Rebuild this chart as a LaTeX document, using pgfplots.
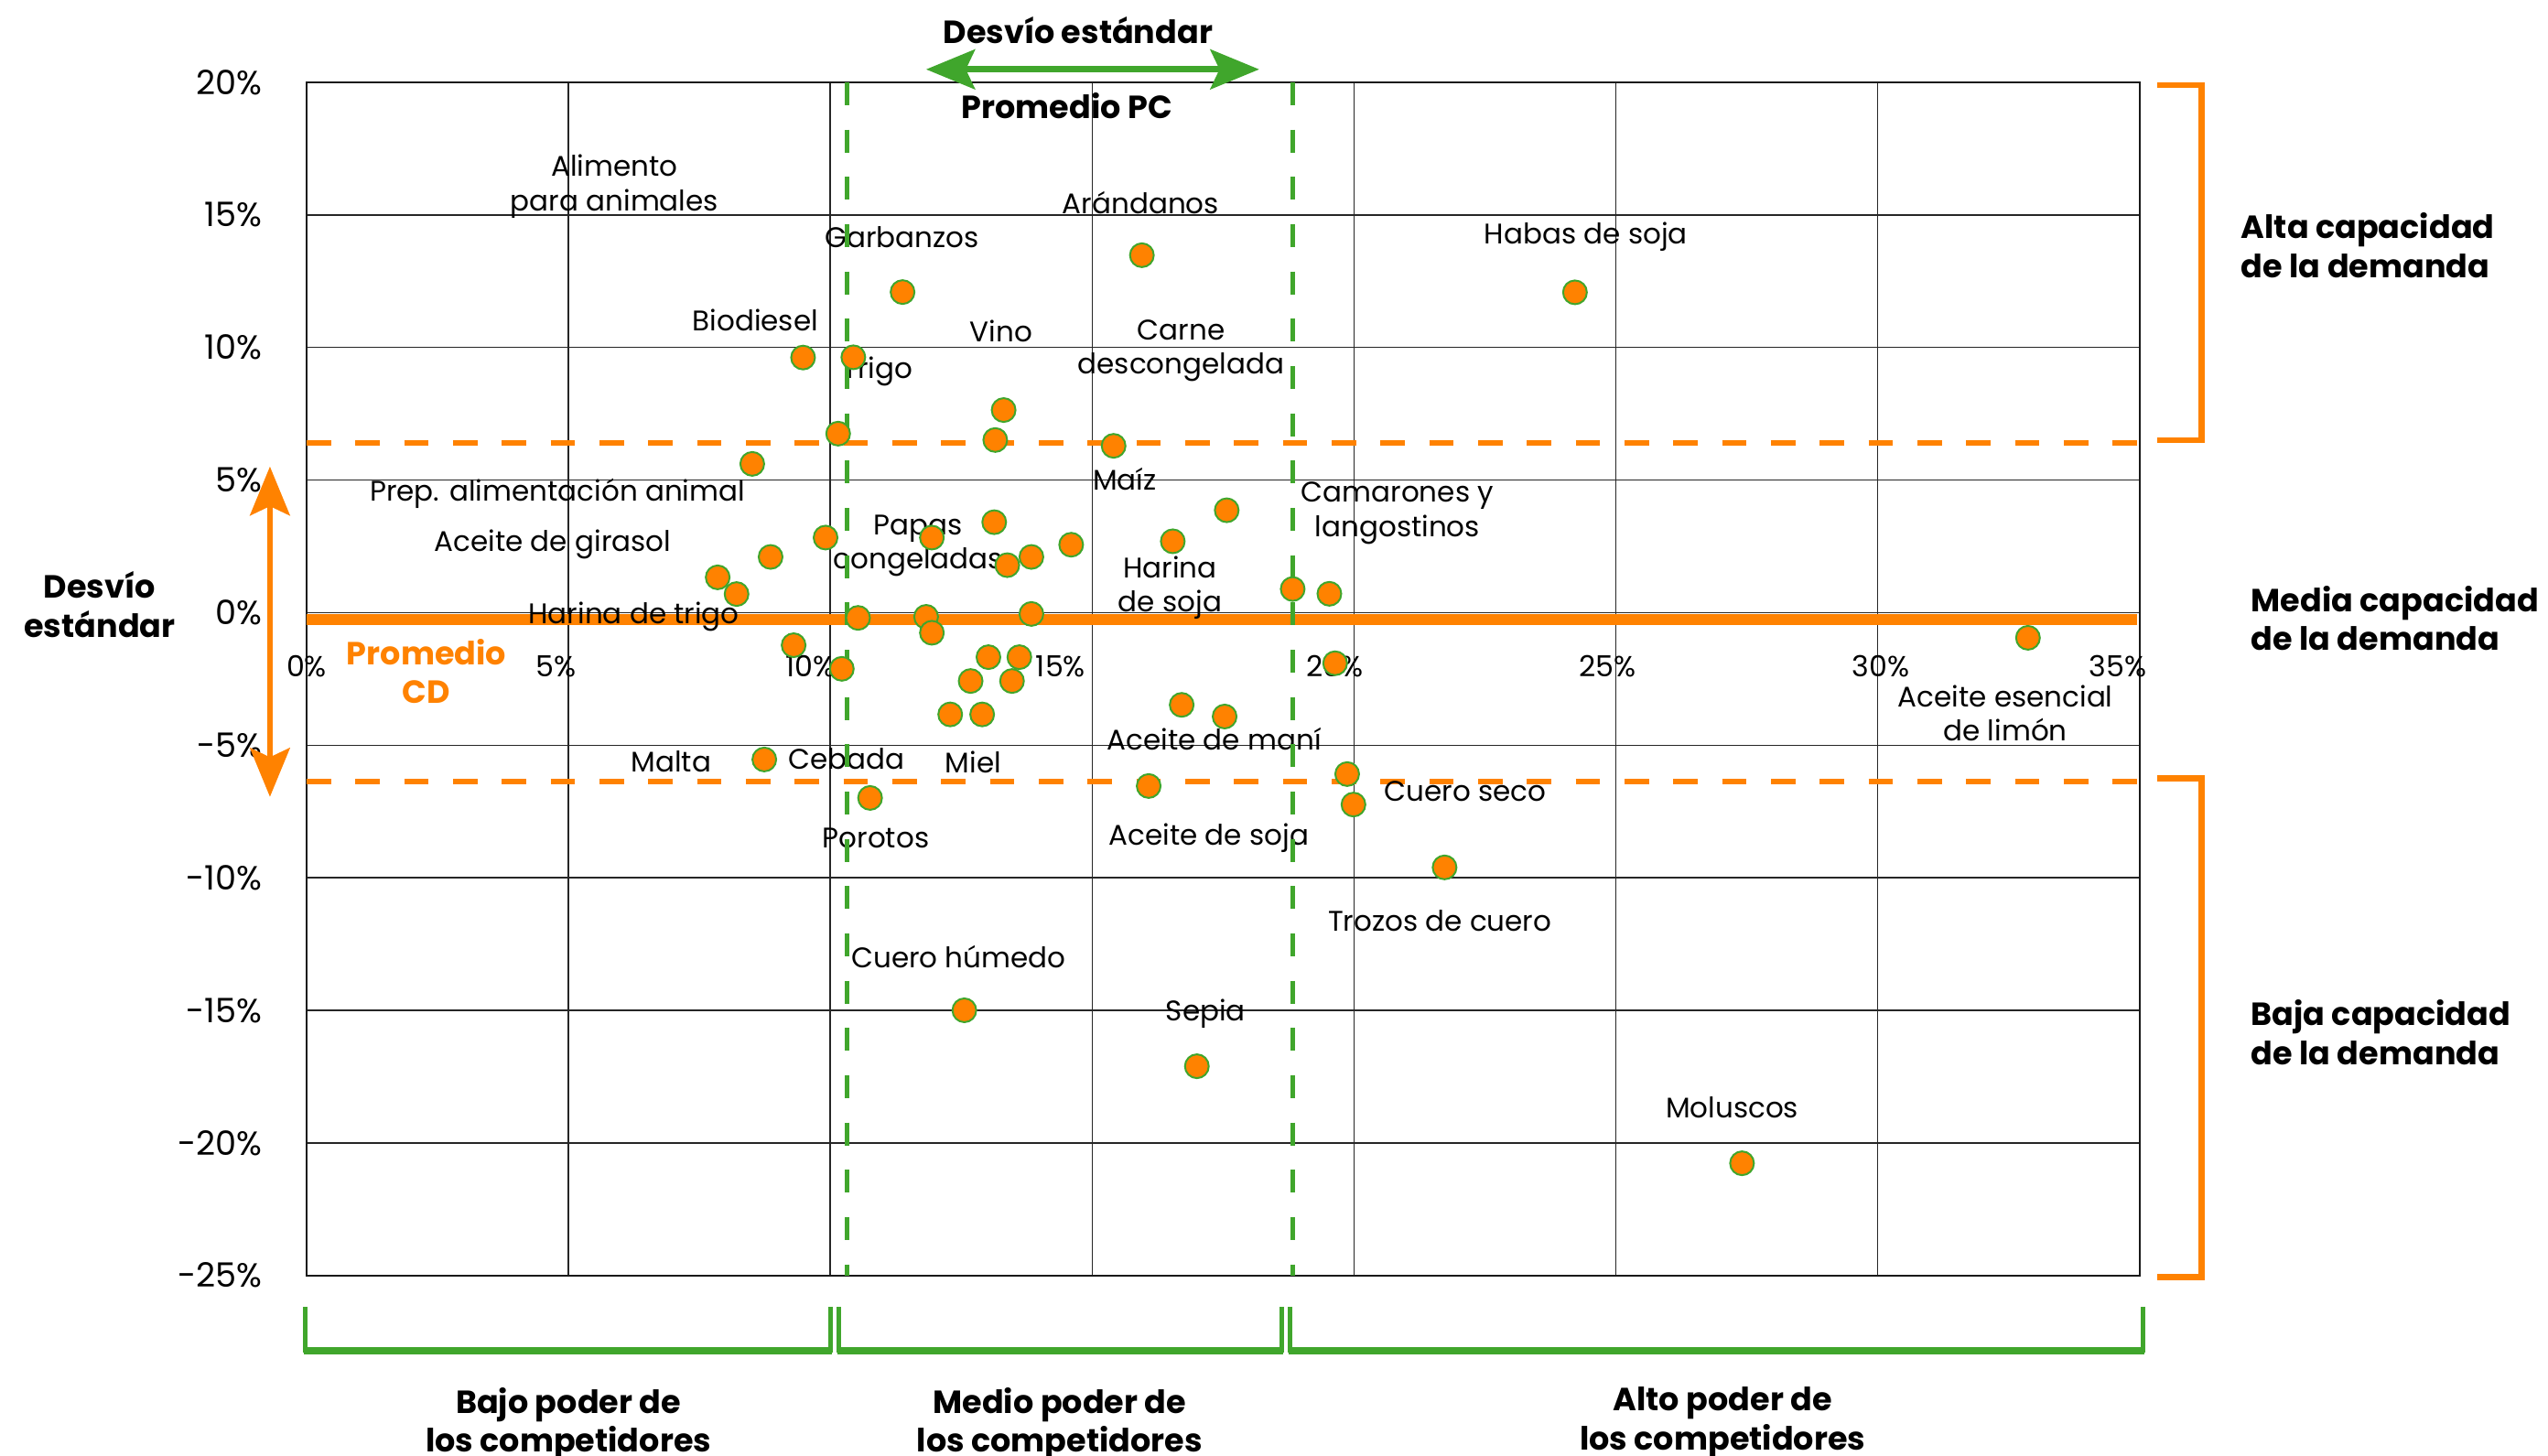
\documentclass[border=0pt]{standalone}
\usepackage{pgfplots}
\pgfplotsset{compat=1.18}
\usepackage{fontspec}
\setmainfont{Poppins}
\usetikzlibrary{arrows.meta}
\definecolor{orC}{RGB}{255,130,0}
\definecolor{grC}{RGB}{64,166,44}
\tikzset{
  lab/.style={font=\fontsize{9.3}{11.2}\selectfont, align=center, inner sep=0pt, text=black},
  blab/.style={font=\bfseries\fontsize{10.5}{12.8}\selectfont, align=center, inner sep=0pt, text=black},
  xtl/.style={font=\fontsize{9.5}{11}\selectfont, inner sep=0pt, text=black},
}
\begin{document}
\begin{tikzpicture}
\useasboundingbox (-100.5pt,-58.9pt) rectangle (734.7pt,418.1pt);
\begin{axis}[
  at={(0,0)}, anchor=south west, scale only axis,
  width=600.8pt, height=391.1pt,
  xmin=0, xmax=35, ymin=-25, ymax=20, clip=false,
  xtick={0,5,10,15,20,25,30,35}, xticklabels={},
  ytick={-25,-20,-15,-10,-5,0,5,10,15,20},
  yticklabels={-25\%,-20\%,-15\%,-10\%,-5\%,0\%,5\%,10\%,15\%,20\%},
  grid=major, major grid style={black!85, line width=0.45pt},
  major tick length=0pt,
  axis line style={black!90, line width=0.5pt},
  yticklabel style={font=\fontsize{11}{13}\selectfont, xshift=-11pt},
  /pgf/number format/assume math mode=true,
]
% orange reference lines
\addplot[orC, line width=1.8pt, dash pattern=on 8pt off 8pt] coordinates {(0,6.40) (35,6.40)};
\addplot[orC, line width=1.8pt, dash pattern=on 8pt off 8pt] coordinates {(0,-6.38) (35,-6.38)};
\addplot[orC, line width=3.8pt] coordinates {(0,-0.26) (34.95,-0.26)};

% data points
\addplot[only marks, mark=*, mark size=3.9pt, mark options={fill=orC, draw=grC, line width=0.6pt}] coordinates {
(11.38,12.09) (9.48,9.62) (10.44,9.63) (13.31,7.64) (10.15,6.75) (13.15,6.51)
(15.41,6.29) (8.51,5.61) (17.57,3.86) (13.13,3.41) (16.54,2.69) (9.91,2.83)
(11.94,2.83) (14.60,2.56) (8.86,2.10) (13.84,2.10) (13.38,1.79) (7.85,1.33)
(8.21,0.70) (18.83,0.89) (19.53,0.71) (10.53,-0.20) (11.83,-0.16) (13.84,-0.05)
(11.94,-0.76) (9.30,-1.23) (32.87,-0.95) (10.22,-2.12) (13.02,-1.68) (13.61,-1.68)
(19.64,-1.91) (12.68,-2.58) (13.47,-2.58) (16.71,-3.48) (12.29,-3.84) (12.90,-3.84)
(17.53,-3.92) (8.74,-5.54) (16.08,-6.54) (10.76,-6.99) (19.87,-6.09) (19.99,-7.24)
(21.73,-9.61) (12.56,-15.00) (17.00,-17.11) (15.95,13.48) (24.22,12.08) (27.41,-20.77)
};

% x tick labels
\node[xtl] at (axis cs:0,-2.02) {0\%};
\node[xtl] at (axis cs:4.77,-2.02) {5\%};
\node[xtl] at (axis cs:9.62,-2.02) {10\%};
\node[xtl] at (axis cs:14.40,-2.02) {15\%};
\node[xtl] at (axis cs:19.63,-2.02) {20\%};
\node[xtl] at (axis cs:24.84,-2.02) {25\%};
\node[xtl] at (axis cs:30.06,-2.02) {30\%};
\node[xtl] at (axis cs:34.59,-2.02) {35\%};

% point labels
\node[lab] at (axis cs:5.88,16.07) {Alimento\\para animales};
\node[lab] at (axis cs:11.37,14.17) {Garbanzos};
\node[lab] at (axis cs:15.93,15.45) {Arándanos};
\node[lab] at (axis cs:24.43,14.17) {Habas de soja};
\node[lab] at (axis cs:8.57,11.04) {Biodiesel};
\node[lab] at (axis cs:13.26,10.62) {Vino};
\node[lab] at (axis cs:16.70,9.88) {Carne\\descongelada};
\node[lab] at (axis cs:10.90,9.08) {Trigo};
\node[lab] at (axis cs:4.79,4.48) {Prep. alimentación animal};
\node[lab] at (axis cs:15.62,5.03) {Maíz};
\node[lab] at (axis cs:20.83,3.75) {Camarones y\\langostinos};
\node[lab] at (axis cs:4.70,2.58) {Aceite de girasol};
\node[lab] at (axis cs:11.68,2.52) {Papas\\congeladas};
\node[lab] at (axis cs:16.49,0.93) {Harina\\de soja};
\node[lab] at (axis cs:6.25,-0.17) {Harina de trigo};
\node[lab] at (axis cs:32.44,-3.79) {Aceite esencial\\de limón};
\node[lab] at (axis cs:17.33,-4.77) {Aceite de maní};
\node[lab] at (axis cs:6.96,-5.63) {Malta};
\node[lab] at (axis cs:10.31,-5.51) {Cebada};
\node[lab] at (axis cs:12.73,-5.63) {Miel};
\node[lab] at (axis cs:22.13,-6.73) {Cuero seco};
\node[lab] at (axis cs:17.23,-8.51) {Aceite de soja};
\node[lab] at (axis cs:10.87,-8.51) {Porotos};
\node[lab] at (axis cs:21.64,-11.64) {Trozos de cuero};
\node[lab] at (axis cs:12.45,-12.99) {Cuero húmedo};
\node[lab] at (axis cs:17.17,-15.13) {Sepia};
\node[lab] at (axis cs:27.22,-18.68) {Moluscos};

% green std-dev lines (on top)
\addplot[grC, line width=1.5pt, dash pattern=on 7.5pt off 8pt] coordinates {(10.32,20) (10.32,-25)};
\addplot[grC, line width=1.5pt, dash pattern=on 7.5pt off 8pt] coordinates {(18.83,20) (18.83,-25)};

% top annotation
\draw[grC, line width=2pt, {Stealth[length=16pt,width=13pt,inset=3pt]}-{Stealth[length=16pt,width=13pt,inset=3pt]}]
  (axis cs:11.83,20.49) -- (axis cs:18.19,20.49);
\node[blab] at (axis cs:14.73,21.95) {Desvío estándar};
\node[blab] at (axis cs:14.52,19.11) {Promedio PC};

% left annotation
\draw[orC, line width=2pt, {Stealth[length=16pt,width=13pt,inset=3pt]}-{Stealth[length=16pt,width=13pt,inset=3pt]}]
  (axis cs:-0.70,5.51) -- (axis cs:-0.70,-6.95);
\node[blab] at (axis cs:-3.95,0.30) {Desvío\\estándar};
\node[blab, text=orC] at (axis cs:2.29,-2.22) {Promedio\\CD};

% right brackets
\draw[orC, line width=2pt, line join=miter] (axis cs:35.34,19.9) -- (axis cs:36.18,19.9) -- (axis cs:36.18,6.5) -- (axis cs:35.34,6.5);
\draw[orC, line width=2pt, line join=miter] (axis cs:35.34,-6.26) -- (axis cs:36.18,-6.26) -- (axis cs:36.18,-25.06) -- (axis cs:35.34,-25.06);
\node[blab, align=left, anchor=west] at (axis cs:36.93,13.86) {Alta capacidad\\de la demanda};
\node[blab, align=left, anchor=west] at (axis cs:37.12,-0.21) {Media capacidad\\de la demanda};
\node[blab, align=left, anchor=west] at (axis cs:37.12,-15.83) {Baja capacidad\\de la demanda};

% bottom brackets: thinner verticals, thicker horizontals, small gaps between
\draw[grC, line width=1.5pt] (axis cs:-0.03,-26.18) -- (axis cs:-0.03,-27.9);
\draw[grC, line width=1.5pt] (axis cs:10.01,-26.18) -- (axis cs:10.01,-27.9);
\draw[grC, line width=1.5pt] (axis cs:10.17,-26.18) -- (axis cs:10.17,-27.9);
\draw[grC, line width=1.5pt] (axis cs:18.62,-26.18) -- (axis cs:18.62,-27.9);
\draw[grC, line width=1.5pt] (axis cs:18.78,-26.18) -- (axis cs:18.78,-27.9);
\draw[grC, line width=1.5pt] (axis cs:35.07,-26.18) -- (axis cs:35.07,-27.9);
\draw[grC, line width=2.5pt] (axis cs:-0.06,-27.84) -- (axis cs:10.04,-27.84);
\draw[grC, line width=2.5pt] (axis cs:10.14,-27.84) -- (axis cs:18.65,-27.84);
\draw[grC, line width=2.5pt] (axis cs:18.75,-27.84) -- (axis cs:35.10,-27.84);
\node[blab, anchor=north] at (axis cs:5.00,-29.2) {Bajo poder de\\los competidores};
\node[blab, anchor=north] at (axis cs:14.38,-29.2) {Medio poder de\\los competidores};
\node[blab, anchor=north] at (axis cs:27.04,-29.2) {Alto poder de\\los competidores};
\end{axis}
\end{tikzpicture}
\end{document}
